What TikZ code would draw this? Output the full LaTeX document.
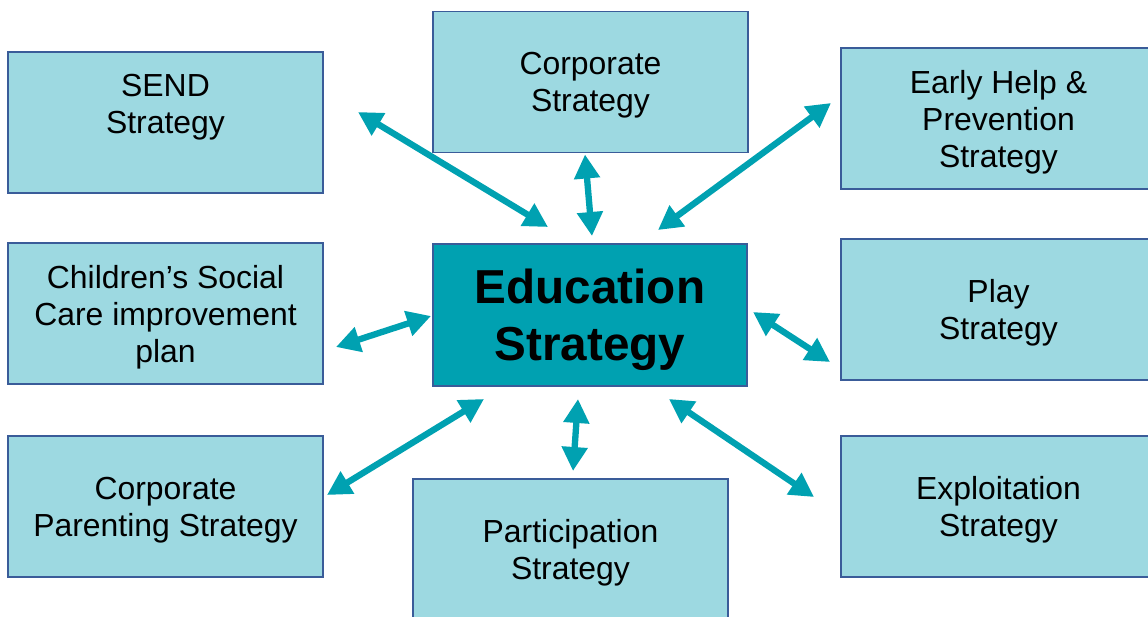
\documentclass[tikz,border=0pt]{standalone}
\usepackage{fontspec}
\setmainfont{Liberation Sans}
\usetikzlibrary{arrows.meta}

\definecolor{boxFill}{HTML}{9DD9E1}
\definecolor{boxLine}{HTML}{3A5C99}
\definecolor{eduFill}{HTML}{00A1B1}

\begin{document}
\begin{tikzpicture}[%
    strategy/.style={%
        draw=boxLine,
        fill=boxFill,
        line width=1.4pt,
        rectangle,
        align=center,
        minimum width=7.875cm,
        minimum height=3.525cm,
        font=\fontsize{22.7}{26.3}\selectfont,
        text depth=-1pt
    },
    education/.style={%
        draw=boxLine,
        fill=eduFill,
        line width=1.4pt,
        rectangle,
        align=center,
        minimum width=7.85cm,
        minimum height=3.55cm,
        font=\fontsize{33.9}{40.5}\selectfont\bfseries,
        text depth=-3pt
    },
    link/.style={%
        draw=eduFill,
        line width=4.5pt
    },
    >={Triangle[length=0.6cm,width=0.62cm]}
]

\useasboundingbox (0,0) rectangle (28.7,15.4);
\clip (0,0) rectangle (28.7,15.4);

% Centre
    \node[education] (edu) at (14.75,7.525) {Education\\Strategy};

% Left column
    \node[strategy, text depth=0.91cm] (send) at (4.1375,12.3375) {SEND\\Strategy};
    \node[strategy] (social) at (4.1375,7.5625) {Children’s Social\\Care improvement\\plan};
    \node[strategy] (parenting) at (4.1375,2.7375) {Corporate\\Parenting Strategy};

% Middle column
    \node[strategy] (corporate) at (14.7625,13.35) {Corporate\\Strategy};
    \node[strategy] (participation) at (14.2625,1.6625) {Participation\\Strategy};

% Right column
    \node[strategy] (earlyhelp) at (24.9625,12.4375) {Early Help \&\\Prevention\\Strategy};
    \node[strategy] (play) at (24.9625,7.6625) {Play\\Strategy};
    \node[strategy] (exploitation) at (24.9625,2.7375) {Exploitation\\Strategy};

% Arrows
\draw[link,<->] ([shift={(0.85,-1.525)}]send.north east) -- ([shift={(2.9,0.4)}]edu.north west);
\draw[link,<->] ([shift={(-0.1375,-0.025)}]corporate.south) -- ([shift={(0.05,0.175)}]edu.north);
\draw[link,<->] ([shift={(-0.225,0.3875)}]earlyhelp.west) -- ([shift={(-2.25,0.325)}]edu.north east);

\draw[link,<->] ([shift={(0.3,-0.8375)}]social.east) -- ([shift={(-0.025,-0.025)}]edu.west);
\draw[link,<->] ([shift={(0.125,0.075)}]edu.east) -- ([shift={(-0.25,-1.3125)}]play.west);

\draw[link,<->] ([shift={(0.075,0.2875)}]parenting.east) -- ([shift={(1.3,-0.3)}]edu.south west);
\draw[link,<->] ([shift={(-0.3,-0.3)}]edu.south) -- ([shift={(0.0625,0.175)}]participation.north);
\draw[link,<->] ([shift={(-1.975,-0.3)}]edu.south east) -- ([shift={(-0.65,0.2375)}]exploitation.west);

\end{tikzpicture}
\end{document}
